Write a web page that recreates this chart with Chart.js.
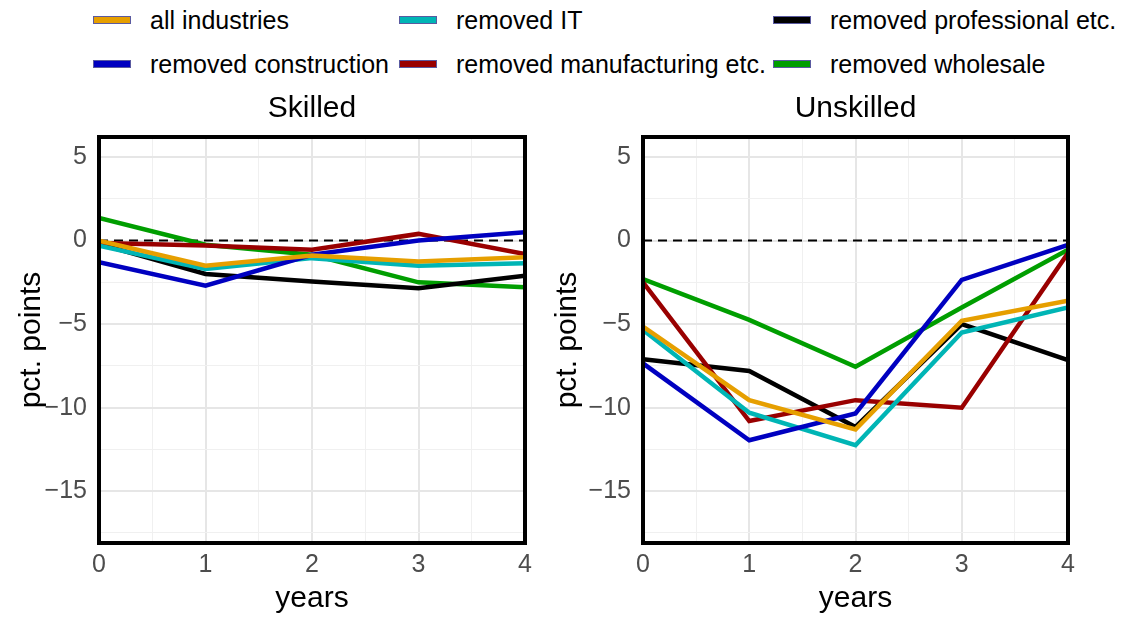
<!DOCTYPE html>
<html>
<head>
<meta charset="utf-8">
<script src="https://cdn.jsdelivr.net/npm/chart.js@4.4.1/dist/chart.umd.min.js"></script>
<style>
  body { margin: 0; background: #fff; font-family: "Liberation Sans", Arial, sans-serif; }
  #wrap { position: relative; width: 1121px; height: 617px; }
  .legend { position: absolute; top: 0; left: 0; width: 1121px; height: 90px; }
  .item { position: absolute; display: flex; align-items: center; font-size: 25px; line-height: 30px; color: #000; white-space: nowrap; }
  .swatch { width: 36px; height: 6px; margin-right: 19px; border: 1px solid #5a5aa0; box-sizing: content-box; }
  .box { position: absolute; top: 90px; height: 527px; }
</style>
</head>
<body>
<div id="wrap">
  <div class="legend" id="legend"></div>
  <div class="box" style="left:0;width:545px"><canvas id="skilled"></canvas></div>
  <div class="box" style="left:545px;width:576px"><canvas id="unskilled"></canvas></div>
</div>
<script>
// Effects by years since event, in percentage points
const years = [0, 1, 2, 3, 4];
const seriesNames = ['all industries', 'removed construction', 'removed IT',
  'removed manufacturing etc.', 'removed professional etc.', 'removed wholesale'];
const seriesColors = ['#E69F00', '#0000C0', '#00B5B5', '#990000', '#000000', '#009E00'];

const skilledAll = [0, -1.5, -0.9, -1.25, -1.0];
const skilledConstruction = [-1.3, -2.7, -0.85, 0.0, 0.5];
const skilledIT = [-0.3, -1.7, -1.05, -1.5, -1.35];
const skilledManufacturing = [-0.15, -0.3, -0.55, 0.4, -0.8];
const skilledProfessional = [-0.2, -2.0, -2.45, -2.85, -2.1];
const skilledWholesale = [1.35, -0.25, -0.85, -2.5, -2.8];

const unskilledAll = [-5.15, -9.55, -11.3, -4.8, -3.6];
const unskilledConstruction = [-7.35, -11.95, -10.35, -2.35, -0.25];
const unskilledIT = [-5.35, -10.3, -12.25, -5.5, -4.0];
const unskilledManufacturing = [-2.5, -10.8, -9.55, -10.0, -0.75];
const unskilledProfessional = [-7.1, -7.8, -11.15, -5.0, -7.15];
const unskilledWholesale = [-2.3, -4.75, -7.55, -4.0, -0.55];

const yTicks = [-17.5, -15, -12.5, -10, -7.5, -5, -2.5, 0, 2.5, 5];
const xTicks = [0, 0.5, 1, 1.5, 2, 2.5, 3, 3.5, 4];
const baseline = 0;

const FONT = '"Liberation Sans", Arial, sans-serif';

// legend laid out in three columns, two rows
const legendPos = [[93, 20], [93, 64], [399, 20], [399, 64], [773, 20], [773, 64]];
const legendEl = document.getElementById('legend');
seriesNames.forEach((name, i) => {
  const el = document.createElement('div');
  el.className = 'item';
  el.style.left = legendPos[i][0] + 'px';
  el.style.top = (legendPos[i][1] - 15) + 'px';
  el.innerHTML = `<span class="swatch" style="background:${seriesColors[i]}"></span>${name}`;
  legendEl.appendChild(el);
});

// black frame round the plot area, panel title centred over it
const frame = {
  id: 'frame',
  afterDatasetsDraw(chart, args, opts) {
    const { ctx, chartArea: a } = chart;
    ctx.save();
    ctx.strokeStyle = '#000';
    ctx.lineWidth = 4;
    ctx.strokeRect(a.left, a.top, a.right - a.left, a.bottom - a.top);
    ctx.fillStyle = '#000';
    ctx.font = '30px ' + FONT;
    ctx.textAlign = 'center';
    ctx.textBaseline = 'middle';
    ctx.fillText(opts.text, (a.left + a.right) / 2, 19);
    ctx.restore();
  }
};

const minus = v => String(v).replace('-', '\u2212');

function makeChart(id, title, rows, yAxisWidth, yTitlePad, rightPad) {
  const datasets = rows.map((vals, i) => ({
    label: seriesNames[i],
    data: years.map((x, j) => ({ x, y: vals[j] })),
    borderColor: seriesColors[i],
    borderWidth: 4.5,
    pointRadius: 0,
    tension: 0,
    fill: false
  }));
  datasets.push({
    label: 'zero',
    data: [{ x: years[0], y: baseline }, { x: years[years.length - 1], y: baseline }],
    borderColor: '#000',
    borderWidth: 2,
    borderDash: [9, 6],
    pointRadius: 0
  });

  const isMajor = c => c.tick && Number.isInteger(c.tick.value / (c.scale.axis === 'y' ? 5 : 1));
  const gridColor = c => isMajor(c) ? '#e6e6e6' : '#f0f0f0';
  const gridWidth = c => isMajor(c) ? 2 : 1;

  return new Chart(document.getElementById(id), {
    type: 'line',
    data: { datasets },
    plugins: [frame],
    options: {
      responsive: true,
      maintainAspectRatio: false,
      animation: false,
      layout: { padding: { left: 0, right: rightPad, top: 47, bottom: 0 } },
      plugins: {
        legend: { display: false },
        tooltip: { enabled: false },
        title: { display: false },
        frame: { text: title }
      },
      scales: {
        x: {
          type: 'linear',
          min: 0,
          max: 4,
          afterBuildTicks: s => { s.ticks = xTicks.map(value => ({ value })); },
          afterFit: s => { s.height = 74; },
          grid: { color: gridColor, lineWidth: gridWidth, drawTicks: false },
          border: { display: false },
          ticks: {
            color: '#4d4d4d',
            padding: 7,
            maxRotation: 0,
            autoSkip: false,
            font: { family: FONT, size: 25 },
            callback: v => Number.isInteger(v) ? String(v) : ''
          },
          title: {
            display: true,
            text: 'years',
            color: '#000',
            font: { family: FONT, size: 30 },
            padding: { top: 0, bottom: 0 }
          }
        },
        y: {
          min: -18.1,
          max: 6.2,
          afterBuildTicks: s => { s.ticks = yTicks.map(value => ({ value })); },
          afterFit: s => { s.width = yAxisWidth; },
          grid: { color: gridColor, lineWidth: gridWidth, drawTicks: false },
          border: { display: false },
          ticks: {
            color: '#4d4d4d',
            padding: 12,
            autoSkip: false,
            font: { family: FONT, size: 25 },
            callback: v => v % 5 === 0 ? minus(v) : ''
          },
          title: {
            display: true,
            text: 'pct. points',
            color: '#000',
            font: { family: FONT, size: 30 },
            padding: { top: yTitlePad, bottom: 0 }
          }
        }
      }
    }
  });
}

makeChart('skilled', 'Skilled',
  [skilledAll, skilledConstruction, skilledIT, skilledManufacturing, skilledProfessional, skilledWholesale],
  99, 14, 20);
makeChart('unskilled', 'Unskilled',
  [unskilledAll, unskilledConstruction, unskilledIT, unskilledManufacturing, unskilledProfessional, unskilledWholesale],
  98, 5, 53);
</script>
</body>
</html>
